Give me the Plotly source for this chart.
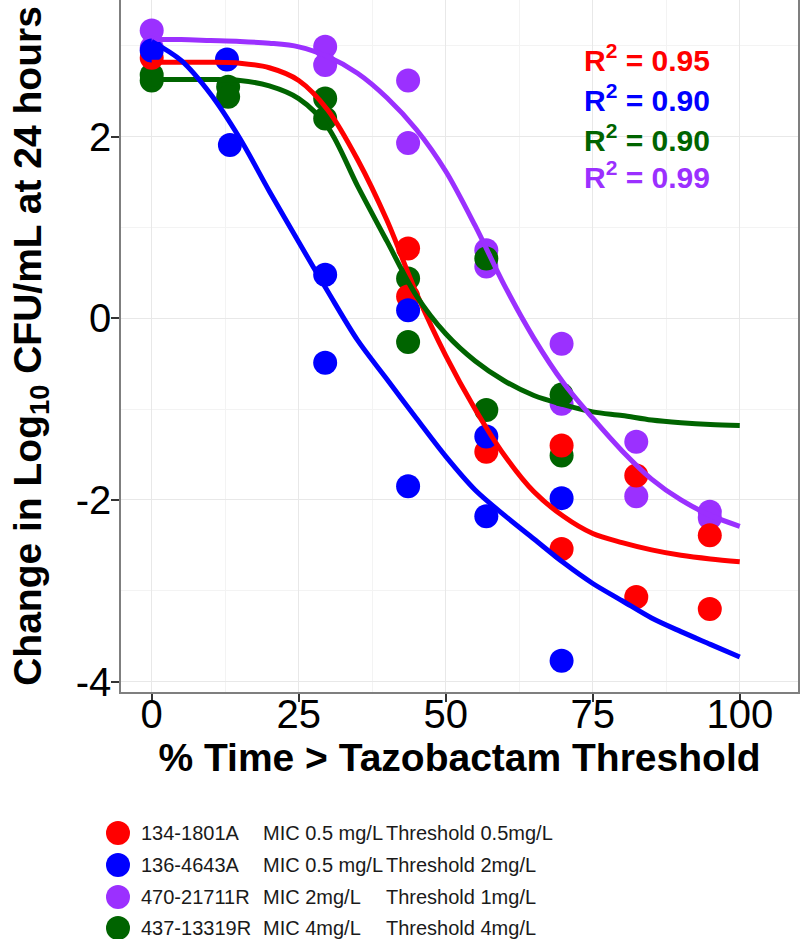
import plotly.graph_objects as go

# ---------------- data ----------------
strain_names = ["134-1801A", "136-4643A", "470-21711R", "437-13319R"]
mic_labels = ["MIC 0.5 mg/L", "MIC 0.5 mg/L", "MIC 2mg/L", "MIC 4mg/L"]
threshold_labels = ["Threshold 0.5mg/L", "Threshold 2mg/L", "Threshold 1mg/L", "Threshold 4mg/L"]
colors = ["#FF0000", "#0000FF", "#9B30FF", "#006400"]
r2_values = ["0.95", "0.90", "0.90", "0.99"]
r2_colors = ["#FF0000", "#0000FF", "#006400", "#9B30FF"]

# observed points
red_x = [0, 43.6, 43.6, 56.9, 69.7, 69.7, 82.4, 82.4, 94.9, 94.9]
red_y = [2.87, 0.77, 0.24, -1.47, -1.40, -2.54, -1.73, -3.07, -2.39, -3.20]
blue_x = [0, 12.8, 13.3, 29.5, 29.5, 43.6, 43.6, 56.9, 56.9, 69.7, 69.7]
blue_y = [2.95, 2.85, 1.91, 0.48, -0.49, 0.09, -1.85, -1.30, -2.18, -1.98, -3.77]
purple_x = [0, 0, 29.5, 29.5, 43.6, 43.6, 56.9, 56.9, 69.7, 69.7, 82.4, 82.4, 94.9, 94.9]
purple_y = [3.17, 2.98, 2.99, 2.79, 2.62, 1.93, 0.75, 0.57, -0.28, -0.94, -1.36, -1.96, -2.13, -2.20]
green_x = [0, 0, 13, 13, 29.5, 29.5, 43.6, 43.6, 56.9, 56.9, 69.7, 69.7]
green_y = [2.62, 2.68, 2.55, 2.44, 2.42, 2.20, 0.44, -0.26, 0.66, -1.01, -0.84, -1.51]

# fitted curves
curve_x = [0, 5, 10, 15, 20, 25, 30, 35, 40, 45, 50, 55, 60, 65, 70, 75, 80, 85, 90, 95, 100]
red_fit = [2.82, 2.82, 2.82, 2.81, 2.76, 2.62, 2.29, 1.75, 1.08, 0.28, -0.41, -1.00, -1.51, -1.91, -2.18, -2.37, -2.47, -2.55, -2.61, -2.65, -2.68]
blue_fit = [3.05, 2.84, 2.47, 1.98, 1.40, 0.84, 0.29, -0.24, -0.67, -1.10, -1.52, -1.89, -2.17, -2.43, -2.69, -2.92, -3.11, -3.30, -3.45, -3.59, -3.73]
purple_fit = [3.07, 3.07, 3.06, 3.05, 3.03, 2.99, 2.88, 2.70, 2.43, 2.08, 1.62, 1.02, 0.36, -0.22, -0.71, -1.10, -1.46, -1.77, -2.00, -2.17, -2.29]
green_fit = [2.63, 2.63, 2.63, 2.62, 2.56, 2.42, 2.10, 1.46, 0.85, 0.25, -0.17, -0.47, -0.69, -0.85, -0.95, -1.03, -1.07, -1.12, -1.15, -1.17, -1.18]

x_ticks = [0, 25, 50, 75, 100]
x_tick_labels = ["0", "25", "50", "75", "100"]
y_ticks = [-4, -2, 0, 2]
y_tick_labels = ["-4", "-2", "0", "2"]

FONT = "Liberation Sans, Arial, sans-serif"

fig = go.Figure()

# points (purple, green, red, blue drawing order)
for xs, ys, c in [(purple_x, purple_y, colors[2]), (green_x, green_y, colors[3]),
                  (red_x, red_y, colors[0]), (blue_x, blue_y, colors[1])]:
    fig.add_trace(go.Scatter(x=xs, y=ys, mode="markers",
                             marker=dict(color=c, size=24, line=dict(width=0)),
                             showlegend=False, hoverinfo="skip"))

# fitted lines (red, green, purple, blue)
for ys, c in [(red_fit, colors[0]), (green_fit, colors[3]), (purple_fit, colors[2]), (blue_fit, colors[1])]:
    fig.add_trace(go.Scatter(x=curve_x, y=ys, mode="lines",
                             line=dict(color=c, width=5, shape="spline", smoothing=0.9),
                             showlegend=False, hoverinfo="skip"))

# R^2 annotations
r2_y = [2.87, 2.43, 1.99, 1.58]
for i in range(4):
    fig.add_annotation(x=73.2, y=r2_y[i], xref="x", yref="y", xanchor="left", yanchor="middle",
                       text=f"<b>R<sup>2</sup> = {r2_values[i]}</b>", showarrow=False,
                       font=dict(family=FONT, size=30, color=r2_colors[i]))

# custom legend below the chart
plot_left, plot_right, plot_top, plot_bottom = 121, 798, 0, 692
pw = plot_right - plot_left
ph = plot_bottom - plot_top
row_px = [833, 865, 897, 928]
for i in range(4):
    yp = (plot_bottom - row_px[i]) / ph
    fig.add_shape(type="circle", xref="paper", yref="paper",
                  xsizemode="pixel", ysizemode="pixel",
                  xanchor=(118 - plot_left) / pw, yanchor=yp,
                  x0=-12, x1=12, y0=-12, y1=12,
                  fillcolor=colors[i], line=dict(width=0))
    for txt, px in [(strain_names[i], 139), (mic_labels[i], 261), (threshold_labels[i], 384)]:
        fig.add_annotation(x=(px - plot_left) / pw, y=yp, xref="paper", yref="paper",
                           xanchor="left", yanchor="middle", text=txt, showarrow=False,
                           font=dict(family=FONT, size=20, color="#1a1a1a"))

axis_common = dict(
    showline=True, mirror=True, linecolor="#7f7f7f", linewidth=1.5,
    ticks="outside", ticklen=8, tickwidth=1.5, tickcolor="#333333",
    showgrid=True, gridcolor="#e8e8e8", gridwidth=1.2, zeroline=False,
    tickfont=dict(family=FONT, size=40, color="black"),
)

fig.update_layout(
    width=800, height=939,
    margin=dict(l=plot_left, r=800 - plot_right, t=plot_top, b=939 - plot_bottom, autoexpand=False),
    paper_bgcolor="white", plot_bgcolor="white",
    xaxis=dict(range=[-5.22, 109.9], tickvals=x_ticks, ticktext=x_tick_labels,
               ticklabelstandoff=-22,
               minor=dict(dtick=12.5, tick0=0, showgrid=True, gridcolor="#f3f3f3", gridwidth=1),
               title=dict(text="<b>% Time > Tazobactam Threshold</b>", standoff=0,
                          font=dict(family=FONT, size=39, color="black")),
               **axis_common),
    yaxis=dict(range=[-4.115, 3.506], tickvals=y_ticks, ticktext=y_tick_labels,
               ticklabelstandoff=-8,
               minor=dict(dtick=1, tick0=0, showgrid=True, gridcolor="#f3f3f3", gridwidth=1),
               title=dict(text="<b>Change in Log<sub>10</sub> CFU/mL at 24 hours</b>", standoff=22,
                          font=dict(family=FONT, size=39, color="black")),
               **axis_common),
    showlegend=False,
)

fig.write_html("out.html", config={"displayModeBar": False},
               post_script="document.body.style.margin='0';")
